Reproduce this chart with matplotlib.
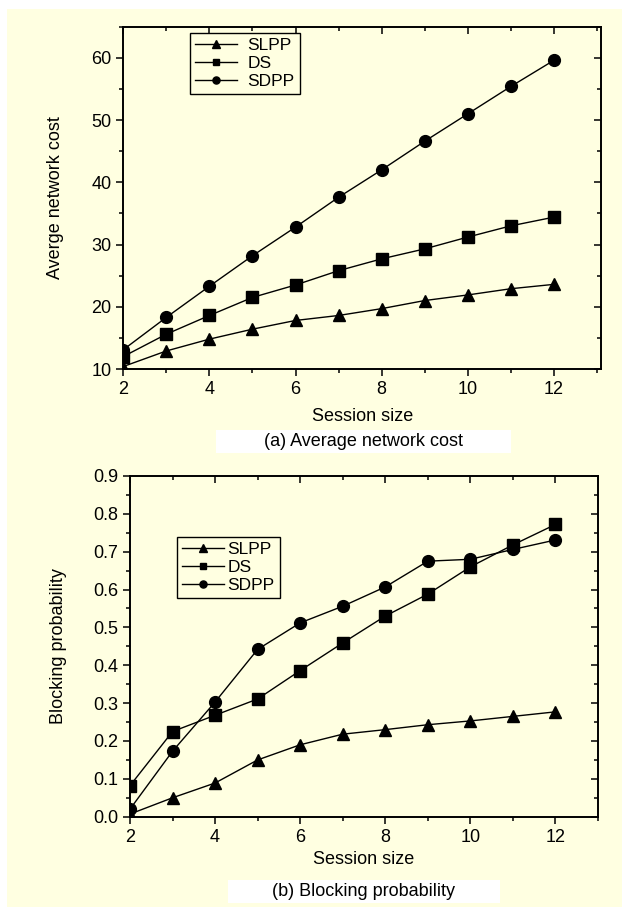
import matplotlib
matplotlib.use('Agg')
import matplotlib.pyplot as plt
from matplotlib.patches import Rectangle
from matplotlib.ticker import MultipleLocator, FormatStrFormatter
from matplotlib import markers as mk

plt.rcParams['font.family'] = ['Liberation Sans', 'DejaVu Sans']

session = [2, 3, 4, 5, 6, 7, 8, 9, 10, 11, 12]

# (a) average network cost
cost_slpp = [10.4, 12.9, 14.8, 16.4, 17.8, 18.6, 19.7, 21.0, 21.9, 22.9, 23.6]
cost_ds = [12.0, 15.6, 18.6, 21.5, 23.5, 25.8, 27.7, 29.3, 31.2, 33.0, 34.4]
cost_sdpp = [13.1, 18.3, 23.3, 28.2, 32.8, 37.6, 42.0, 46.6, 51.0, 55.4, 59.6]

# (b) blocking probability
block_slpp = [0.007, 0.050, 0.089, 0.150, 0.190, 0.218, 0.230, 0.243, 0.253, 0.265, 0.277]
block_ds = [0.082, 0.225, 0.268, 0.311, 0.386, 0.459, 0.530, 0.588, 0.660, 0.718, 0.772]
block_sdpp = [0.020, 0.173, 0.303, 0.442, 0.512, 0.556, 0.607, 0.675, 0.680, 0.706, 0.731]

names = ['SLPP', 'DS', 'SDPP']
markers = ['^', 's', 'o']
msizes = [9, 8, 8.5]

bg = '#FFFFE1'
W, H = 633, 909
fig = plt.figure(figsize=(W / 100, H / 100), dpi=100, facecolor='white')
fig.patches.append(Rectangle((7 / W, 1 - 907 / H), 615 / W, 898 / H,
                             transform=fig.transFigure, facecolor=bg,
                             edgecolor='none', zorder=-10))


def px_axes(left, right, top, bottom):
    return fig.add_axes([left / W, 1 - bottom / H, (right - left) / W, (bottom - top) / H])


def draw(ax, ys):
    for y, m, s, n in zip(ys, markers, msizes, names):
        ax.plot(session, y, color='black', lw=1.0, marker=m, ms=s, label=n)


# top panel
ax1 = px_axes(123.3, 601.3, 26.7, 369)
draw(ax1, [cost_slpp, cost_ds, cost_sdpp])
ax1.set_xlim(2, 13.1)
ax1.set_ylim(10, 65)
ax1.yaxis.set_major_locator(MultipleLocator(10))
ax1.yaxis.set_minor_locator(MultipleLocator(5))

# bottom panel
ax2 = px_axes(130, 598, 476, 816.7)
draw(ax2, [block_slpp, block_ds, block_sdpp])
ax2.set_xlim(2, 13)
ax2.set_ylim(0, 0.9)
ax2.yaxis.set_major_locator(MultipleLocator(0.1))
ax2.yaxis.set_minor_locator(MultipleLocator(0.05))
ax2.yaxis.set_major_formatter(FormatStrFormatter('%.1f'))

for ax in (ax1, ax2):
    ax.set_facecolor(bg)
    for s in ax.spines.values():
        s.set_linewidth(1.4)
    ax.xaxis.set_major_locator(MultipleLocator(2))
    ax.xaxis.set_minor_locator(MultipleLocator(1))
    ax.tick_params(which='both', labelsize=13, width=1.1, direction='out')
    ax.tick_params(which='major', length=5)
    ax.tick_params(which='minor', length=3)
    ax.tick_params(axis='x', which='both', top=True)
    ax.tick_params(axis='y', which='both', right=True)
    # top and right ticks point inward
    for line in ax.xaxis.get_ticklines()[1::2] + ax.xaxis.get_ticklines(minor=True)[1::2]:
        line.set_marker(mk.TICKDOWN)
    for line in ax.yaxis.get_ticklines()[1::2] + ax.yaxis.get_ticklines(minor=True)[1::2]:
        line.set_marker(mk.TICKLEFT)
    ax.set_xlabel('Session size', fontsize=13)

ax1.set_ylabel('Averge network cost', fontsize=13)
ax2.set_ylabel('Blocking probability', fontsize=13)
ax1.xaxis.set_label_coords(0.5, -0.114)
ax2.xaxis.set_label_coords(0.5, -0.101)
ax1.yaxis.set_label_coords(-0.125, 0.5)
ax2.yaxis.set_label_coords(-0.135, 0.5)

leg1 = ax1.legend(loc='upper left', bbox_to_anchor=(0.1395, 0.9816), borderaxespad=0,
                  fontsize=12.5, markerscale=0.6, handlelength=2.4, handletextpad=0.6,
                  labelspacing=0.15, borderpad=0.3, fancybox=False, framealpha=1,
                  facecolor=bg, edgecolor='black')
leg1.get_frame().set_linewidth(1.0)
leg2 = ax2.legend(loc='upper left', bbox_to_anchor=(0.1004, 0.821), borderaxespad=0,
                  fontsize=12.5, markerscale=0.6, handlelength=2.4, handletextpad=0.2,
                  labelspacing=0.15, borderpad=0.3, fancybox=False, framealpha=1,
                  facecolor=bg, edgecolor='black')
leg2.get_frame().set_linewidth(1.0)

# caption boxes
for (l, r, t, b), txt in [((216, 511, 430, 453), '(a) Average network cost'),
                          ((228, 500, 880, 903), '(b) Blocking probability')]:
    fig.patches.append(Rectangle((l / W, 1 - b / H), (r - l) / W, (b - t) / H,
                                 transform=fig.transFigure, facecolor='white',
                                 edgecolor='none', zorder=-5))
    fig.text((l + r) / 2 / W, 1 - (t + b) / 2 / H, txt, ha='center', va='center', fontsize=13)

fig.savefig('out.png', dpi=100, facecolor='white')
